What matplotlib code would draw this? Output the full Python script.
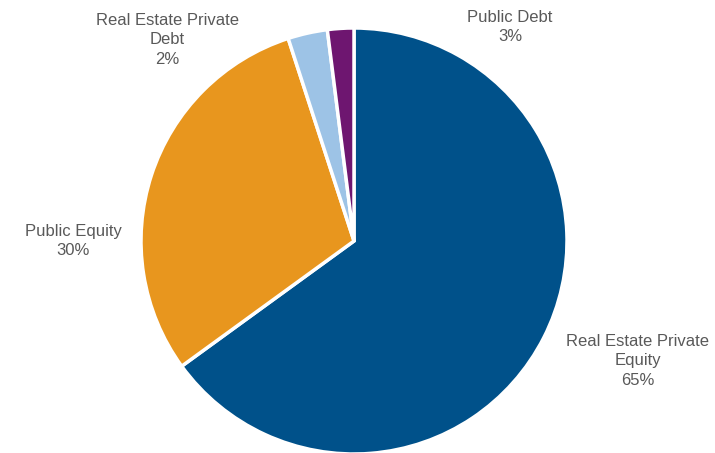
import matplotlib.pyplot as plt

plt.rcParams['font.family'] = ['Liberation Sans', 'DejaVu Sans']

names = ["Real Estate Private\nEquity", "Public Equity", "Public Debt", "Real Estate Private\nDebt"]
shares = [65, 30, 3, 2]
colors = ["#00518A", "#E8961E", "#9DC3E6", "#6E1670"]

# label anchor points in pixels (x from left, y from top)
label_pos = [(638, 361), (73, 241), (510, 27), (167, 40)]

W, H = 715, 453
fig = plt.figure(figsize=(W / 100, H / 100), dpi=100)

# pie centre at (354, 241), radius 213 px
cx, cy, r = 354, 241, 213
ax = fig.add_axes([(cx - r) / W, (H - cy - r) / H, 2 * r / W, 2 * r / H])
ax.pie(shares, colors=colors, startangle=90, counterclock=False, radius=1,
       wedgeprops=dict(edgecolor="white", linewidth=2.5))
ax.set_xlim(-1, 1)
ax.set_ylim(-1, 1)
ax.set_aspect("equal")
ax.axis("off")

for name, val, (x, y) in zip(names, shares, label_pos):
    fig.text(x / W, 1 - y / H, f"{name}\n{val}%", ha="center", va="center",
             fontsize=12, color="#595959", linespacing=1.38)

plt.savefig("out.png", dpi=100)
